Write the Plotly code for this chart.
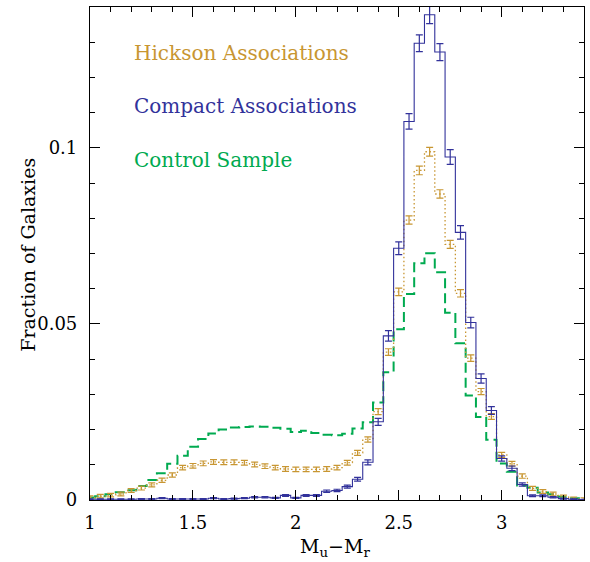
import plotly.graph_objects as go

# Bin centres of M_u - M_r (bin width 0.05)
bin_centers = [1.00, 1.05, 1.10, 1.15, 1.20, 1.25, 1.30, 1.35, 1.40, 1.45,
               1.50, 1.55, 1.60, 1.65, 1.70, 1.75, 1.80, 1.85, 1.90, 1.95,
               2.00, 2.05, 2.10, 2.15, 2.20, 2.25, 2.30, 2.35, 2.40, 2.45,
               2.50, 2.55, 2.60, 2.65, 2.70, 2.75, 2.80, 2.85, 2.90, 2.95,
               3.00, 3.05, 3.10, 3.15, 3.20, 3.25, 3.30, 3.35, 3.40]

hickson = [0.0007, 0.0011, 0.0014, 0.0017, 0.0027, 0.0034, 0.0043, 0.0056, 0.0071, 0.0092,
           0.0097, 0.0104, 0.0108, 0.0107, 0.0107, 0.0106, 0.0101, 0.0096, 0.0092, 0.0088,
           0.0087, 0.0087, 0.0087, 0.0088, 0.0092, 0.0106, 0.0134, 0.0172, 0.0251, 0.0420,
           0.0591, 0.0795, 0.0936, 0.0989, 0.0869, 0.0726, 0.0587, 0.0403, 0.0308, 0.0237,
           0.0128, 0.0103, 0.0068, 0.0033, 0.0024, 0.0017, 0.0009, 0.0004, 0.0002]
hickson_err = [0.00047, 0.0005, 0.0005, 0.00051, 0.00054, 0.00056, 0.00058, 0.0006, 0.00063, 0.00066,
               0.00067, 0.00068, 0.00068, 0.00068, 0.00068, 0.00068, 0.00067, 0.00066, 0.00066, 0.00065,
               0.00065, 0.00065, 0.00065, 0.00065, 0.00066, 0.00068, 0.00071, 0.00075, 0.00083, 0.00095,
               0.00106, 0.00116, 0.00123, 0.00125, 0.0012, 0.00113, 0.00105, 0.00094, 0.00087, 0.00082,
               0.0007, 0.00067, 0.00062, 0.00056, 0.00053, 0.00051, 0.00048, 0.00045, 0.00044]

compact = [0.0002, 0.0002, 0.0002, 0.0002, 0.0002, 0.0003, 0.0003, 0.0005, 0.0003, 0.0003,
           0.0003, 0.0003, 0.0005, 0.0003, 0.0004, 0.0005, 0.0008, 0.0008, 0.0006, 0.0013,
           0.0006, 0.0013, 0.0013, 0.0025, 0.0027, 0.0038, 0.0059, 0.0107, 0.0222, 0.0466,
           0.0715, 0.1075, 0.1297, 0.1378, 0.1272, 0.0974, 0.0760, 0.0504, 0.0345, 0.0254,
           0.0118, 0.0090, 0.0044, 0.0012, 0.0012, 0.0008, 0.0004, 0.0002, 0.0001]
compact_err = [0.0001, 0.0001, 0.0001, 0.0001, 0.0001, 0.00012, 0.00012, 0.00015, 0.00012, 0.00012,
               0.00012, 0.00012, 0.00015, 0.00012, 0.00014, 0.00015, 0.0002, 0.0002, 0.00017, 0.00025,
               0.00017, 0.00025, 0.00025, 0.00034, 0.00035, 0.00042, 0.00052, 0.0007, 0.001, 0.0015,
               0.0018, 0.0022, 0.0024, 0.0025, 0.0024, 0.0021, 0.0019, 0.0015, 0.0013, 0.0011,
               0.00074, 0.00065, 0.00045, 0.00024, 0.00024, 0.0002, 0.00014, 0.0001, 0.00007]

control = [0.0007, 0.0011, 0.0016, 0.0022, 0.0028, 0.0040, 0.0057, 0.0076, 0.0103, 0.0126,
           0.0151, 0.0173, 0.0189, 0.0200, 0.0206, 0.0207, 0.0209, 0.0208, 0.0205, 0.0202,
           0.0193, 0.0197, 0.0190, 0.0185, 0.0184, 0.0188, 0.0203, 0.0221, 0.0277, 0.0363,
           0.0485, 0.0585, 0.0672, 0.0701, 0.0647, 0.0532, 0.0445, 0.0297, 0.0236, 0.0171,
           0.0104, 0.0080, 0.0041, 0.0035, 0.0021, 0.0016, 0.0009, 0.0005, 0.0002]

labels = ["Hickson Associations", "Compact Associations", "Control Sample"]
x_tickvals = [1, 1.5, 2, 2.5, 3]
x_ticktext = ["1", "1.5", "2", "2.5", "3"]
y_tickvals = [0, 0.05, 0.1]
y_ticktext = ["0", "0.05", "0.1"]

C_ORANGE = "rgb(200,150,50)"
C_BLUE = "rgb(50,50,155)"
C_GREEN = "rgb(0,170,80)"
FONT = "DejaVu Serif"

fig = go.Figure()

fig.add_trace(go.Scatter(
    x=bin_centers, y=control, mode="lines", line_shape="hvh",
    line=dict(color=C_GREEN, width=2, dash="10px,5px"),
    showlegend=False, hoverinfo="skip"))

fig.add_trace(go.Scatter(
    x=bin_centers, y=hickson, mode="lines", line_shape="hvh",
    line=dict(color=C_ORANGE, width=1.3, dash="1.5px,2.5px"),
    error_y=dict(type="data", array=hickson_err, visible=True,
                 color=C_ORANGE, thickness=1.2, width=3.5),
    showlegend=False, hoverinfo="skip"))

fig.add_trace(go.Scatter(
    x=bin_centers, y=compact, mode="lines", line_shape="hvh",
    line=dict(color=C_BLUE, width=1.1),
    error_y=dict(type="data", array=compact_err, visible=True,
                 color=C_BLUE, thickness=1.2, width=3.5),
    showlegend=False, hoverinfo="skip"))

axis_common = dict(
    showline=True, linecolor="black", linewidth=1.2, mirror="allticks",
    ticks="inside", ticklen=10, tickwidth=1, tickcolor="black",
    showgrid=False, zeroline=False,
    tickfont=dict(family=FONT, size=18, color="black"),
)

fig.update_xaxes(range=[1, 3.4], tickvals=x_tickvals, ticktext=x_ticktext,
                 minor=dict(dtick=0.1, tick0=1, ticks="inside", ticklen=5,
                            tickcolor="black", showgrid=False),
                 ticklabelstandoff=6, **axis_common)
fig.update_yaxes(range=[0, 0.14], tickvals=y_tickvals, ticktext=y_ticktext,
                 minor=dict(dtick=0.01, tick0=0, ticks="inside", ticklen=5,
                            tickcolor="black", showgrid=False),
                 ticklabelstandoff=8, **axis_common)

colors = [C_ORANGE, C_BLUE, C_GREEN]
ypos = [0.127, 0.1119, 0.0966]
for txt, col, yy in zip(labels, colors, ypos):
    fig.add_annotation(x=1.205, y=yy, xref="x", yref="y", text=txt,
                       showarrow=False, xanchor="left", yanchor="middle",
                       font=dict(family=FONT, size=20, color=col))

fig.add_annotation(x=0.496, y=-0.097, xref="paper", yref="paper",
                   text="M<sub>u</sub>\u2212M<sub>r</sub>", showarrow=False,
                   xanchor="center", yanchor="middle",
                   font=dict(family=FONT, size=19, color="black"))
fig.add_annotation(x=-0.126, y=0.497, xref="paper", yref="paper",
                   text="Fraction of Galaxies", showarrow=False, textangle=-90,
                   xanchor="center", yanchor="middle",
                   font=dict(family=FONT, size=19, color="black"))

fig.update_layout(
    width=590, height=562,
    margin=dict(l=90, r=6, t=7, b=62),
    paper_bgcolor="white", plot_bgcolor="white",
)

fig.write_html("out.html", config={"displayModeBar": False},
               post_script="document.body.style.margin='0px';document.body.style.padding='0px';")
